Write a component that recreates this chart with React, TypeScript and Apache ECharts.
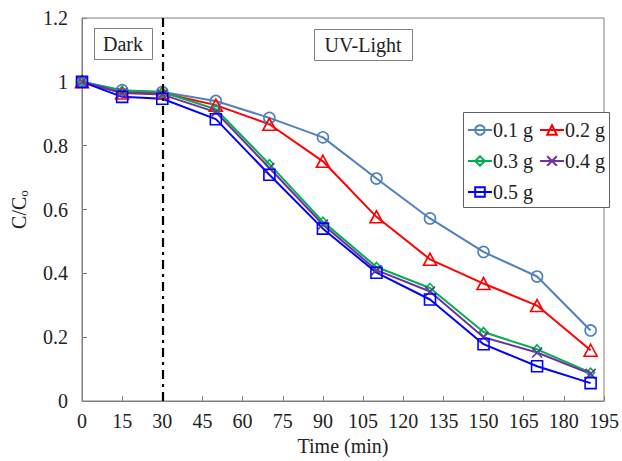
import React, { useEffect, useRef } from "react";
import * as echarts from "echarts";

const timeMin = [0, 15, 30, 50, 70, 90, 110, 130, 150, 170, 190];
const s01 = [1, 0.974, 0.968, 0.94, 0.887, 0.826, 0.697, 0.572, 0.467, 0.39, 0.221];
const s02 = [1, 0.965, 0.965, 0.927, 0.867, 0.751, 0.577, 0.444, 0.368, 0.299, 0.159];
const s03 = [1, 0.972, 0.968, 0.914, 0.742, 0.562, 0.42, 0.354, 0.216, 0.162, 0.089];
const s04 = [1, 0.965, 0.96, 0.905, 0.73, 0.553, 0.41, 0.343, 0.2, 0.152, 0.085];
const s05 = [1, 0.953, 0.947, 0.883, 0.709, 0.54, 0.402, 0.318, 0.178, 0.109, 0.056];
const seriesNames = ["0.1 g", "0.2 g", "0.3 g", "0.4 g", "0.5 g"];
const darkEnd = 30;

const FONT = "Liberation Serif";
const FS = 20;

export default function App() {
  const ref = useRef<HTMLDivElement>(null);
  useEffect(() => {
    document.body.style.margin = "0";
    const chart = echarts.init(ref.current!, undefined, { renderer: "svg" });
    const pair = (ys: number[]) => timeMin.map((t, i) => [t, ys[i]]);
    const mk = (
      name: string,
      ys: number[],
      color: string,
      symbol: string,
      size: number | number[]
    ) => ({
      name,
      type: "line",
      data: pair(ys),
      symbol,
      symbolSize: size,
      showAllSymbol: true,
      lineStyle: { color, width: 2 },
      itemStyle: { color: "none", borderColor: color, borderWidth: 1.6 },
      emphasis: { disabled: true },
      z: 3,
    });
    const series: any[] = [
      mk(seriesNames[0], s01, "#4F81BD", "circle", 11),
      mk(seriesNames[1], s02, "#FF0000", "triangle", [13, 12]),
      mk(seriesNames[2], s03, "#00B050", "diamond", [8, 9]),
      mk(seriesNames[3], s04, "#7030A0", "path://M0,0L10,10M10,0L0,10", 10),
      mk(seriesNames[4], s05, "#0000FF", "rect", 11),
    ];
    series[0].markLine = {
      silent: true,
      symbol: "none",
      label: { show: false },
      lineStyle: { color: "#000", width: 2.2, type: [9, 5, 3, 5] },
      data: [{ xAxis: darkEnd }],
    };
    const legendBase = {
      orient: "horizontal",
      itemWidth: 24,
      itemHeight: 12,
      itemGap: 6,
      textStyle: { fontFamily: FONT, fontSize: FS, color: "#222", padding: [0, 0, 0, -4] },
      selectedMode: false,
      padding: 0,
    };
    chart.setOption({
      animation: false,
      textStyle: { fontFamily: FONT },
      grid: {
        left: 82,
        right: 14,
        top: 18,
        bottom: 57,
        show: true,
        borderColor: "#808080",
        borderWidth: 1,
      },
      xAxis: {
        type: "value",
        min: 0,
        max: 195,
        interval: 15,
        name: "Time (min)",
        nameLocation: "middle",
        nameGap: 35,
        nameTextStyle: { fontFamily: FONT, fontSize: FS, color: "#222" },
        axisLine: { lineStyle: { color: "#808080" } },
        axisTick: { inside: true, length: 5, lineStyle: { color: "#808080" } },
        axisLabel: { fontFamily: FONT, fontSize: FS, color: "#222", margin: 10 },
        splitLine: { show: false },
      },
      yAxis: {
        type: "value",
        min: 0,
        max: 1.2,
        interval: 0.2,
        name: "{a|C/C}{s|o}",
        nameLocation: "middle",
        nameGap: 52,
        nameTextStyle: {
          fontFamily: FONT,
          color: "#222",
          rich: {
            a: { fontFamily: FONT, fontSize: FS, color: "#222" },
            s: { fontFamily: FONT, fontSize: 13, color: "#222", padding: [9, 0, 0, 0] },
          },
        },
        axisLine: { show: true, lineStyle: { color: "#808080" } },
        axisTick: { show: true, inside: true, length: 5, lineStyle: { color: "#808080" } },
        axisLabel: { fontFamily: FONT, fontSize: FS, color: "#222", margin: 14 },
        splitLine: { show: false },
      },
      legend: [
        { ...legendBase, left: 467, top: 120, data: [seriesNames[0], seriesNames[1]] },
        { ...legendBase, left: 467, top: 151, data: [seriesNames[2], seriesNames[3]] },
        { ...legendBase, left: 467, top: 182, data: [seriesNames[4]] },
      ],
      graphic: [
        {
          type: "rect",
          left: 463,
          top: 112,
          shape: { width: 146, height: 95 },
          style: { fill: "#fff", stroke: "#606060", lineWidth: 1 },
          z: 0,
        },
        {
          type: "rect",
          left: 94,
          top: 28,
          shape: { width: 58, height: 31 },
          style: { fill: "#fff", stroke: "#808080", lineWidth: 1 },
        },
        {
          type: "text",
          x: 123,
          y: 44,
          style: {
            text: "Dark",
            fontFamily: FONT,
            fontSize: FS,
            fill: "#222",
            align: "center",
            verticalAlign: "middle",
          },
        },
        {
          type: "rect",
          left: 314,
          top: 29,
          shape: { width: 98, height: 31 },
          style: { fill: "#fff", stroke: "#808080", lineWidth: 1 },
        },
        {
          type: "text",
          x: 363,
          y: 45,
          style: {
            text: "UV-Light",
            fontFamily: FONT,
            fontSize: FS,
            fill: "#222",
            align: "center",
            verticalAlign: "middle",
          },
        },
      ],
      series,
    });
    return () => chart.dispose();
  }, []);
  return (
    <div
      ref={ref}
      style={{ position: "absolute", left: 0, top: 0, width: 622, height: 461 }}
    />
  );
}
